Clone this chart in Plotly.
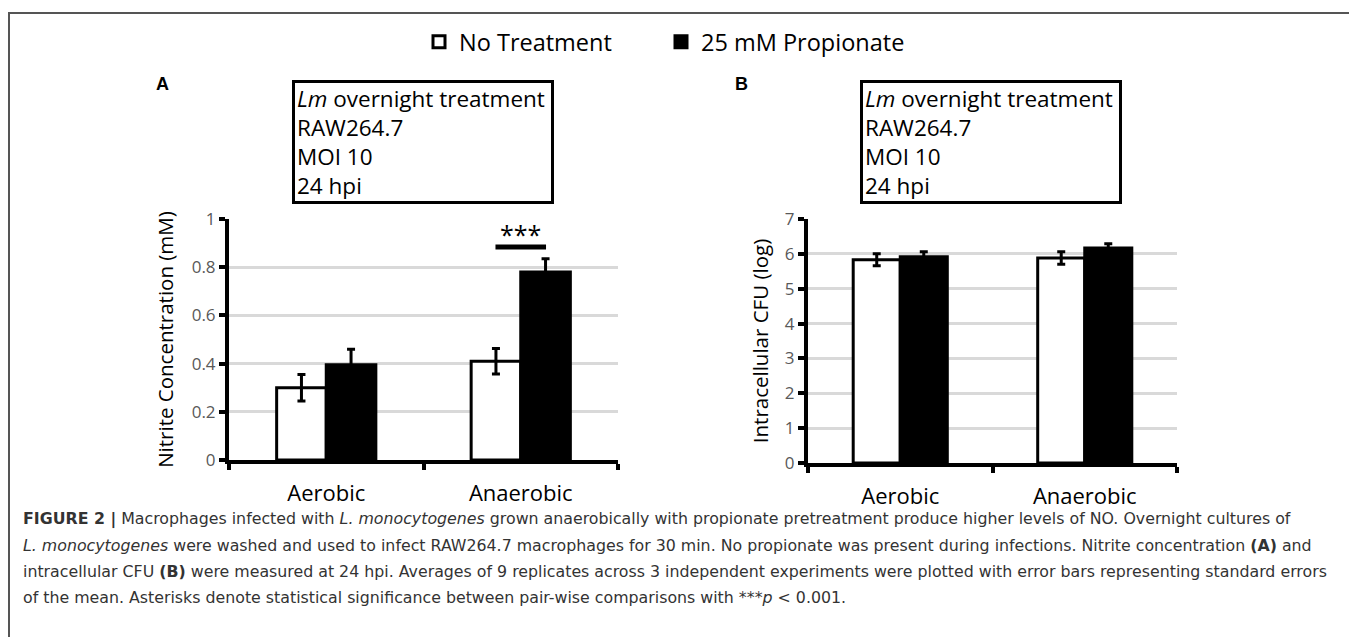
import plotly.graph_objects as go

W, H = 1357, 637
PAGE_OFFSET = 8  # default body margin of the html page

categories = ["Aerobic", "Anaerobic"]
series_names = ["No Treatment", "25 mM Propionate"]

# Panel A: Nitrite concentration (mM)
a_none = [0.30, 0.41]
a_none_se = [0.055, 0.053]
a_prop = [0.395, 0.78]
a_prop_se = [0.065, 0.055]

# Panel B: Intracellular CFU (log)
b_none = [5.83, 5.88]
b_none_se = [0.17, 0.18]
b_prop = [5.92, 6.17]
b_prop_se = [0.14, 0.12]

a_yticks = [0, 0.2, 0.4, 0.6, 0.8, 1]
a_yticktext = ["0", "0.2", "0.4", "0.6", "0.8", "1"]
b_yticks = [0, 1, 2, 3, 4, 5, 6, 7]

sig_text = "***"
sig_y = 0.884

box_text = "<i>Lm</i> overnight treatment<br>RAW264.7<br>MOI 10<br>24 hpi"

caption_lines = [
    "<b>FIGURE 2 |</b> Macrophages infected with <i>L. monocytogenes</i> grown anaerobically with propionate pretreatment produce higher levels of NO. Overnight cultures of",
    "<i>L. monocytogenes</i> were washed and used to infect RAW264.7 macrophages for 30 min. No propionate was present during infections. Nitrite concentration <b>(A)</b> and",
    "intracellular CFU <b>(B)</b> were measured at 24 hpi. Averages of 9 replicates across 3 independent experiments were plotted with error bars representing standard errors",
    "of the mean. Asterisks denote statistical significance between pair-wise comparisons with ***<i>p</i> &lt; 0.001.",
]


def px(x):
    return (x - PAGE_OFFSET) / W


def py(y):
    return 1 - (y - PAGE_OFFSET) / H


CH = "Open Sans"
TICK_COLOR = "#595959"

fig = go.Figure()

err_style = dict(type="data", visible=True, color="black", thickness=3, width=4)

fig.add_trace(go.Bar(x=categories, y=a_none, name=series_names[0],
                     marker=dict(color="white", line=dict(color="black", width=3)),
                     error_y=dict(array=a_none_se, **err_style),
                     xaxis="x", yaxis="y", legendgroup="n", legend="legend"))
fig.add_trace(go.Bar(x=categories, y=a_prop, name=series_names[1],
                     marker=dict(color="black", line=dict(color="black", width=3)),
                     error_y=dict(array=a_prop_se, **err_style),
                     xaxis="x", yaxis="y", legendgroup="p", legend="legend2"))
fig.add_trace(go.Bar(x=categories, y=b_none, name=series_names[0], showlegend=False,
                     marker=dict(color="white", line=dict(color="black", width=3)),
                     error_y=dict(array=b_none_se, **err_style),
                     xaxis="x2", yaxis="y2", legendgroup="n", legend="legend"))
fig.add_trace(go.Bar(x=categories, y=b_prop, name=series_names[1], showlegend=False,
                     marker=dict(color="black", line=dict(color="black", width=3)),
                     error_y=dict(array=b_prop_se, **err_style),
                     xaxis="x2", yaxis="y2", legendgroup="p", legend="legend2"))

xaxis_common = dict(
    type="category", range=[-0.5, 1.5], showline=True, linecolor="black", linewidth=4,
    ticks="outside", tickson="boundaries", ticklen=6, tickwidth=4, tickcolor="black",
    showgrid=False, zeroline=False, fixedrange=True, automargin=False,
    tickfont=dict(family=CH, size=22, color="black"), ticklabelstandoff=11,
)
yaxis_common = dict(
    showline=True, linecolor="black", linewidth=4, ticks="outside", ticklen=6,
    tickwidth=4, tickcolor="black", showgrid=True, gridcolor="#d9d9d9", gridwidth=3,
    zeroline=False, fixedrange=True, automargin=False,
    tickfont=dict(family=CH, size=17, color=TICK_COLOR),
)

legend_common = dict(orientation="h", xref="container", yref="container",
                     xanchor="left", yanchor="middle",
                     font=dict(family=CH, size=23.5, color="black"),
                     bgcolor="rgba(0,0,0,0)")

fig.update_layout(
    width=W, height=H, margin=dict(l=0, r=0, t=0, b=0, autoexpand=False),
    paper_bgcolor="white", plot_bgcolor="white",
    barmode="group", bargap=0.49, bargroupgap=0,
    font=dict(family=CH, color="black"),
    xaxis=dict(domain=[px(229), px(618)], anchor="y", **xaxis_common),
    yaxis=dict(domain=[py(460), py(219)], anchor="x", range=[0, 1],
               tickvals=a_yticks, ticktext=a_yticktext,
               title=dict(text="Nitrite Concentration (mM)", font=dict(family=CH, size=20.5),
                          standoff=14),
               **yaxis_common),
    xaxis2=dict(domain=[px(808), px(1177)], anchor="y2", **xaxis_common),
    yaxis2=dict(domain=[py(463), py(219)], anchor="x2", range=[0, 7],
                tickvals=b_yticks,
                title=dict(text="Intracellular CFU (log)", font=dict(family=CH, size=20.5),
                           standoff=12),
                **yaxis_common),
    showlegend=True,
    legend=dict(x=px(419), y=py(42), **legend_common),
    legend2=dict(x=px(661), y=py(42), **legend_common),
)

# significance marker
fig.add_shape(type="line", xref="x", yref="y", x0=0.87, x1=1.13, y0=sig_y, y1=sig_y,
              line=dict(color="black", width=5))
fig.add_annotation(xref="x", yref="y", x=1.0, y=sig_y, xanchor="center", yanchor="bottom",
                   yshift=-6, text=sig_text, showarrow=False,
                   font=dict(family=CH, size=25, color="black"))

# info boxes
for cx in [(293 + 553) / 2, (867 + 1115) / 2]:
    fig.add_annotation(xref="paper", yref="paper", x=px(cx), y=py(142), xanchor="center",
                       yanchor="middle", text=box_text, showarrow=False, align="left",
                       width=252, height=114, bordercolor="black", borderwidth=3,
                       borderpad=2, font=dict(family=CH, size=22.5, color="black"))

# panel letters
for lab, x in [("A", 162), ("B", 741)]:
    fig.add_annotation(xref="paper", yref="paper", x=px(x), y=py(84), xanchor="center",
                       yanchor="middle", text="<b>%s</b>" % lab, showarrow=False,
                       font=dict(family="Liberation Sans", size=18, color="black"))

# outer frame
fig.add_shape(type="rect", xref="paper", yref="paper", x0=px(9), x1=px(1355), y0=-0.05,
              y1=py(13), line=dict(color="#555555", width=2), layer="below")

# caption
for i, line in enumerate(caption_lines):
    fig.add_annotation(xref="paper", yref="paper", x=px(21), y=py(519 + 26 * i), xanchor="left",
                       yanchor="middle", text=line, showarrow=False, align="left",
                       font=dict(family="DejaVu Sans", size=15.8, color="#333333"))

fig.write_html("out.html")
